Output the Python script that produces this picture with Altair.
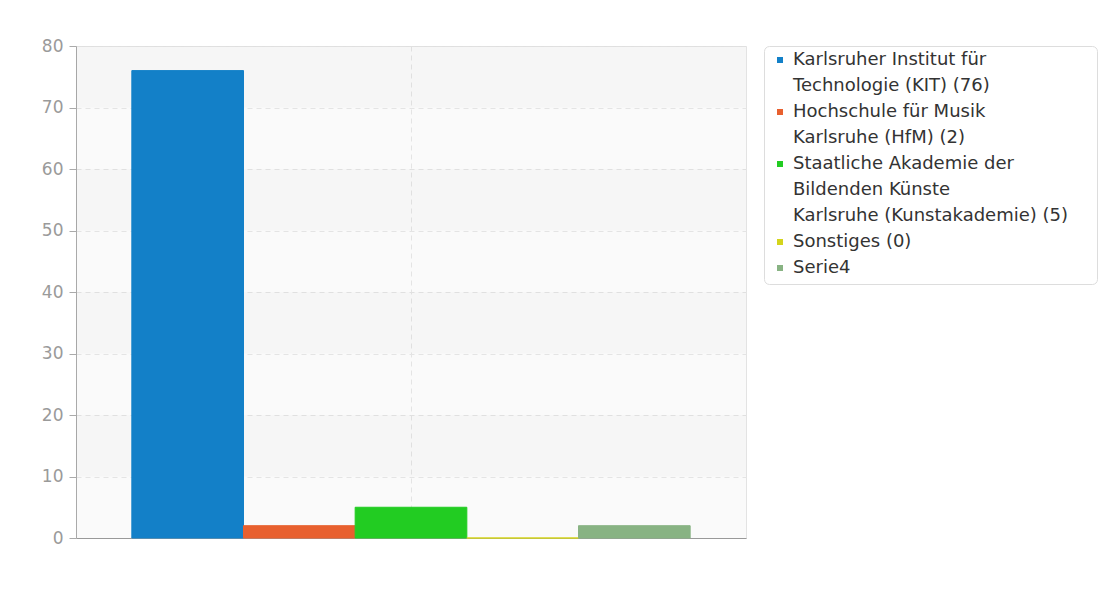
import altair as alt
import pandas as pd

# ---- data ----
series = [
    "Karlsruher Institut für Technologie (KIT) (76)",
    "Hochschule für Musik Karlsruhe (HfM) (2)",
    "Staatliche Akademie der Bildenden Künste Karlsruhe (Kunstakademie) (5)",
    "Sonstiges (0)",
    "Serie4",
]
values = [76, 2, 5, 0, 2]
colors = ["#1380c8", "#e8602f", "#22cc22", "#d4d41c", "#88b383"]
category = ["Hochschulen"] * len(series)

y_ticks = [0, 10, 20, 30, 40, 50, 60, 70, 80]
band_lo = [10, 30, 50, 70]
band_hi = [20, 40, 60, 80]

legend_lines = [
    "Karlsruher Institut für",
    "Technologie (KIT) (76)",
    "Hochschule für Musik",
    "Karlsruhe (HfM) (2)",
    "Staatliche Akademie der",
    "Bildenden Künste",
    "Karlsruhe (Kunstakademie) (5)",
    "Sonstiges (0)",
    "Serie4",
]
legend_line_series = [0, 0, 1, 1, 2, 2, 2, 3, 4]

# ---- tables ----
bars_df = pd.DataFrame({"cat": category, "series": series, "value": values,
                        "order": list(range(len(series)))})
bands_df = pd.DataFrame({"lo": band_lo, "hi": band_hi})
first = [i == 0 or legend_line_series[i] != legend_line_series[i - 1]
         for i in range(len(legend_lines))]
legend_df = pd.DataFrame({
    "line": legend_lines,
    "row": list(range(len(legend_lines))),
    "series": [series[k] for k in legend_line_series],
    "first": first,
})

color_scale = alt.Scale(domain=series, range=colors)
y_scale = alt.Scale(domain=[0, 80], nice=False)
y_axis = alt.Axis(values=y_ticks, grid=True, gridDash=[5, 4], gridColor="#e4e4e4",
                  domainColor="#aaaaaa", tickColor="#aaaaaa", tickSize=7,
                  labelColor="#9a9a9a", labelFontSize=17, labelPadding=6,
                  title=None)

bands = alt.Chart(bands_df).mark_rect(color="#000000", opacity=0.016).encode(
    y=alt.Y("lo:Q", scale=y_scale, axis=y_axis),
    y2="hi:Q",
)

bars = alt.Chart(bars_df).mark_bar(strokeWidth=1).encode(
    x=alt.X("cat:N", scale=alt.Scale(paddingInner=0, paddingOuter=0.1),
            axis=alt.Axis(labels=False, ticks=False, title=None,
                          domainColor="#999999", grid=True, gridDash=[5, 4],
                          gridColor="#e4e4e4", bandPosition=0.5)),
    xOffset=alt.XOffset("series:N", sort=series,
                        scale=alt.Scale(paddingInner=0, paddingOuter=0)),
    y=alt.Y("value:Q", scale=y_scale, axis=y_axis),
    color=alt.Color("series:N", scale=color_scale, legend=None),
    stroke=alt.Stroke("series:N", scale=color_scale, legend=None),
)

main = alt.layer(bands, bars).properties(
    width=670, height=492,
    view=alt.ViewBackground(fill="#fafafa", stroke="#e3e3e3"),
)

legend_y = alt.Y("row:Q", scale=alt.Scale(domain=[0, 8], range=[14, 222]), axis=None)

legend_text = alt.Chart(legend_df).mark_text(
    align="left", baseline="middle", fontSize=18, color="#333333"
).encode(
    x=alt.value(29),
    y=legend_y,
    text="line:N",
)

legend_sq = alt.Chart(legend_df).transform_filter("datum.first").mark_square(
    size=36, opacity=1
).encode(
    x=alt.value(16),
    y=legend_y,
    color=alt.Color("series:N", scale=color_scale, legend=None),
)

legend = alt.layer(legend_sq, legend_text).properties(
    width=333, height=238,
    view=alt.ViewBackground(fill="#ffffff", stroke="#dddddd", cornerRadius=5),
)

chart = alt.hconcat(main, legend, spacing=18, bounds="flush").properties(
    padding={"left": 32, "top": 28, "right": 0, "bottom": 0},
    background="#ffffff",
).configure(font="DejaVu Sans")

chart.save("out.html", embed_options={"renderer": "svg", "actions": False})
